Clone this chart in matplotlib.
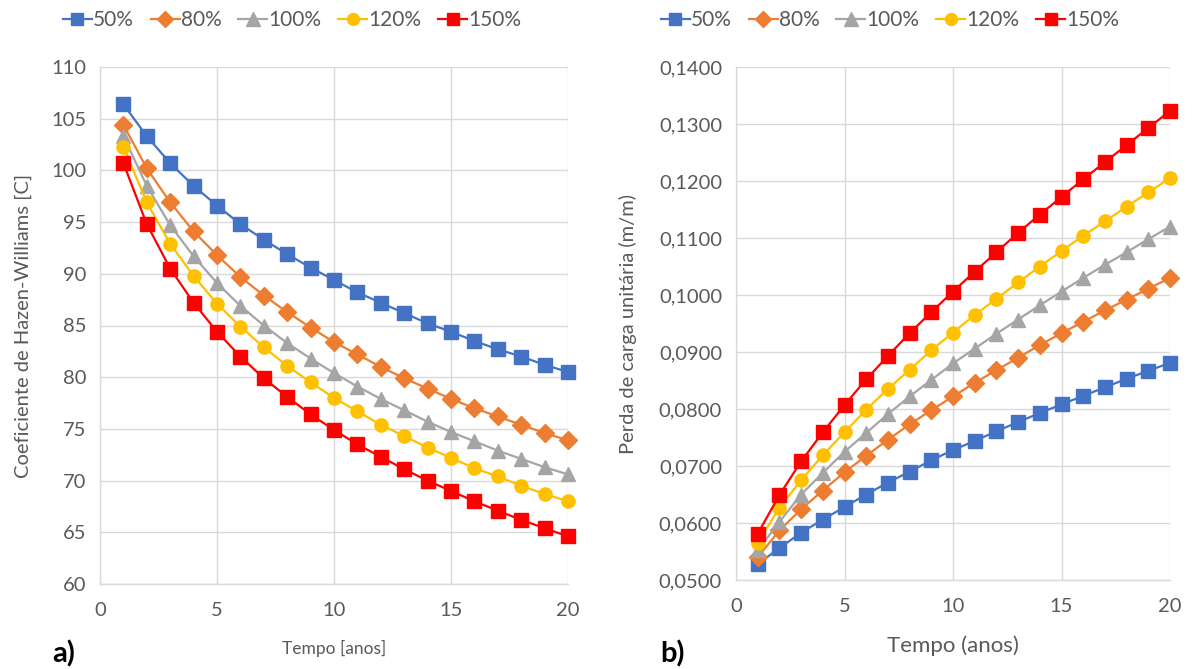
import matplotlib
matplotlib.use("Agg")
import matplotlib.pyplot as plt
from matplotlib.ticker import FuncFormatter, MultipleLocator

plt.rcParams['font.family'] = ['Lato', 'DejaVu Sans']

anos = list(range(1, 21))
series_labels = ["50%", "80%", "100%", "120%", "150%"]
colors = ["#4472C4", "#ED7D31", "#A5A5A5", "#FFC000", "#FF0000"]
markers = ["s", "D", "^", "o", "s"]
msizes = [9.5, 9.5, 10.5, 9.5, 9.5]

# Coeficiente de Hazen-Williams C
c_50 = [106.4, 103.3, 100.7, 98.5, 96.6, 94.8, 93.3, 91.9, 90.6, 89.4,
        88.2, 87.2, 86.2, 85.2, 84.4, 83.5, 82.7, 82.0, 81.2, 80.5]
c_80 = [104.4, 100.2, 96.9, 94.1, 91.8, 89.7, 87.9, 86.3, 84.8, 83.4,
        82.2, 81.0, 79.9, 78.9, 77.9, 77.0, 76.2, 75.4, 74.6, 73.9]
c_100 = [103.3, 98.5, 94.7, 91.7, 89.1, 86.9, 85.0, 83.3, 81.8, 80.4,
         79.1, 77.9, 76.8, 75.7, 74.7, 73.8, 72.9, 72.1, 71.3, 70.6]
c_120 = [102.3, 96.9, 92.9, 89.8, 87.1, 84.9, 82.9, 81.1, 79.5, 78.0,
         76.7, 75.4, 74.3, 73.2, 72.2, 71.2, 70.4, 69.5, 68.7, 68.0]
c_150 = [100.7, 94.8, 90.5, 87.2, 84.4, 82.0, 79.9, 78.1, 76.4, 74.9,
         73.5, 72.3, 71.1, 70.0, 69.0, 68.0, 67.1, 66.2, 65.4, 64.6]

# Perda de carga unitária (m/m)
j_50 = [0.0528, 0.0556, 0.0583, 0.0606, 0.0628, 0.0650, 0.0671, 0.0690, 0.0710, 0.0728,
        0.0744, 0.0761, 0.0777, 0.0793, 0.0808, 0.0823, 0.0838, 0.0853, 0.0867, 0.0881]
j_80 = [0.0540, 0.0587, 0.0624, 0.0657, 0.0689, 0.0718, 0.0746, 0.0773, 0.0798, 0.0822,
        0.0846, 0.0868, 0.0890, 0.0912, 0.0933, 0.0953, 0.0973, 0.0992, 0.1011, 0.1030]
j_100 = [0.0552, 0.0602, 0.0650, 0.0688, 0.0725, 0.0758, 0.0791, 0.0822, 0.0851, 0.0880,
         0.0906, 0.0932, 0.0957, 0.0982, 0.1006, 0.1030, 0.1053, 0.1075, 0.1098, 0.1120]
j_120 = [0.0565, 0.0627, 0.0675, 0.0719, 0.0759, 0.0799, 0.0835, 0.0869, 0.0903, 0.0934,
         0.0965, 0.0993, 0.1022, 0.1050, 0.1077, 0.1104, 0.1129, 0.1155, 0.1180, 0.1205]
j_150 = [0.0581, 0.0649, 0.0708, 0.0759, 0.0807, 0.0852, 0.0893, 0.0933, 0.0970, 0.1006,
         0.1041, 0.1075, 0.1109, 0.1141, 0.1172, 0.1203, 0.1233, 0.1263, 0.1293, 0.1323]

W, H = 1196, 669
fig = plt.figure(figsize=(W / 100, H / 100), dpi=100)

def rect(x0, y0, x1, y1):
    return [x0 / W, 1 - y1 / H, (x1 - x0) / W, (y1 - y0) / H]

ax1 = fig.add_axes(rect(100, 67, 568, 584))
ax2 = fig.add_axes(rect(736, 67, 1170, 580))

grid_c = "#D9D9D9"
text_c = "#595959"

def style(ax):
    for s in ax.spines.values():
        s.set_color(grid_c)
        s.set_linewidth(1.0)
    ax.spines['top'].set_visible(False)
    ax.spines['right'].set_visible(False)
    ax.grid(True, color=grid_c, linewidth=1.0)
    ax.set_axisbelow(True)
    ax.tick_params(length=0, labelsize=14.5, colors=text_c)
    ax.tick_params(axis='x', pad=13)
    ax.tick_params(axis='y', pad=10)
    ax.xaxis.set_major_locator(MultipleLocator(5))
    ax.set_xlim(0, 20)

# legend centres (figure pixels) for each panel
legend_cx = [292, 890]

for ax, data, cx in ((ax1, [c_50, c_80, c_100, c_120, c_150], legend_cx[0]),
                     (ax2, [j_50, j_80, j_100, j_120, j_150], legend_cx[1])):
    style(ax)
    for vals, lab, col, mk, ms in zip(data, series_labels, colors, markers, msizes):
        ax.plot(anos, vals, color=col, marker=mk, markersize=ms, linewidth=1.6,
                label=lab, clip_on=False)
    leg = ax.legend(loc="center", bbox_to_anchor=(cx / W, 1 - 20 / H),
                    bbox_transform=fig.transFigure, ncol=5,
                    frameon=False, fontsize=15, handlelength=1.4, handletextpad=0.05,
                    columnspacing=0.8, borderaxespad=0.0, markerscale=0.9)
    for t in leg.get_texts():
        t.set_color(text_c)

ax1.set_ylim(60, 110)
ax1.yaxis.set_major_locator(MultipleLocator(5))
ax1.set_ylabel("Coeficiente de Hazen-Williams [C]", fontsize=14.5, color=text_c, labelpad=14)
ax1.set_xlabel("Tempo [anos]", fontsize=12.5, color=text_c, labelpad=15)

ax2.set_ylim(0.05, 0.14)
ax2.yaxis.set_major_locator(MultipleLocator(0.01))
ax2.yaxis.set_major_formatter(FuncFormatter(lambda v, p: f"{v:.4f}".replace(".", ",")))
ax2.set_ylabel("Perda de carga unitária (m/m)", fontsize=14.5, color=text_c, labelpad=16)
ax2.set_xlabel("Tempo (anos)", fontsize=16, color=text_c, labelpad=15)

fig.text(52 / W, 1 - 662 / H, "a)", fontsize=21, fontweight="bold", color="black")
fig.text(660 / W, 1 - 662 / H, "b)", fontsize=21, fontweight="bold", color="black")

fig.savefig("out.png", dpi=100)
